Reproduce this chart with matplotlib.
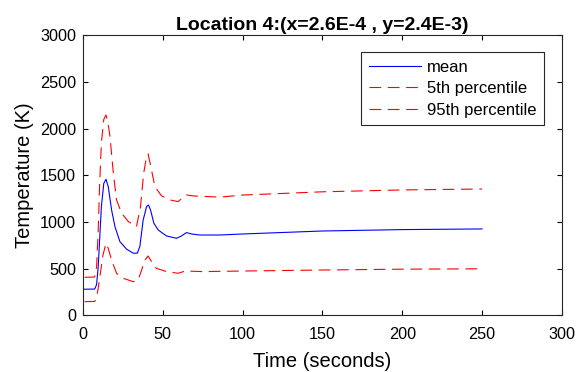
import matplotlib.pyplot as plt

plt.rcParams['font.family'] = ['Liberation Sans', 'DejaVu Sans']

# 平均値
t_mean = [1, 7.3, 8.5, 9.5, 10.4, 11.5, 13, 14.4, 15.8, 17.9, 20, 23.1, 27.3, 31.5, 34, 35.6, 37.7, 39.8, 41, 42.3, 44.4, 47.1, 52.3, 58.6, 61.7, 64.8, 68, 73.2, 85.7, 100, 150, 200, 250]
T_mean = [281, 283, 330, 520, 809, 1166, 1415, 1459, 1380, 1130, 952, 791, 710, 667, 667, 738, 1024, 1166, 1184, 1130, 988, 916, 852, 827, 852, 888, 873, 862, 862, 873, 905, 920, 927]

# 5パーセンタイル
t_p5 = [1, 7.3, 8.5, 9.5, 10.4, 12.5, 14.4, 15.8, 17.9, 21, 25.2, 31.5, 34.6, 36.7, 38.8, 40.8, 42.9, 46, 52.3, 59.6, 62, 64.8, 68, 75, 100, 150, 200, 250]
T_p5 = [148, 150, 190, 290, 398, 648, 773, 719, 594, 452, 398, 362, 380, 487, 594, 637, 577, 505, 470, 452, 465, 480, 474, 470, 476, 487, 496, 500]

# 95パーセンタイル
t_p95 = [1, 7.3, 8.5, 9.5, 10.4, 11.5, 13, 14.4, 15.5, 16.9, 19, 21, 24.2, 28.4, 33.5, 36, 38, 39.8, 40.8, 42.9, 45, 49.2, 54.4, 59.6, 62.7, 64.8, 69, 85.7, 100, 150, 200, 250]
T_p95 = [409, 412, 520, 900, 1400, 1850, 2100, 2148, 2080, 1916, 1524, 1238, 1095, 1006, 952, 1166, 1524, 1703, 1730, 1560, 1381, 1281, 1238, 1220, 1266, 1291, 1281, 1268, 1290, 1325, 1345, 1355]

fig = plt.figure(figsize=(5.81, 3.72), dpi=100)
ax = fig.add_axes([0.1429, 0.152, 0.8241, 0.7526])

ax.plot(t_mean, T_mean, color='blue', lw=0.8, label='mean')
ax.plot(t_p5, T_p5, color='red', lw=0.8, dashes=(10.5, 6), label='5th percentile')
ax.plot(t_p95, T_p95, color='red', lw=0.8, dashes=(10.5, 6), label='95th percentile')

ax.set_xlim(0, 300)
ax.set_ylim(0, 3000)
ax.set_xticks(range(0, 301, 50))
ax.set_yticks(range(0, 3001, 500))
ax.tick_params(direction='in', top=True, right=True, labelsize=11.7, length=3.5, width=0.8, pad=5)
ax.tick_params(axis='x', pad=8.5)
for s in ax.spines.values():
    s.set_linewidth(0.8)
    s.set_color('#262626')

ax.set_xlabel('Time (seconds)', fontsize=14.5, labelpad=7)
ax.set_ylabel('Temperature (K)', fontsize=14.5, labelpad=4)
ax.set_title('Location 4:(x=2.6E-4 , y=2.4E-3)', fontsize=14, fontweight='bold', pad=4)

leg = ax.legend(loc='upper right', bbox_to_anchor=(0.963, 0.94), borderaxespad=0, fontsize=12,
                fancybox=False, framealpha=1, edgecolor='#262626', handlelength=3.15,
                handletextpad=0.36, borderpad=0.44, labelspacing=0.4)
leg.get_frame().set_linewidth(0.8)

fig.savefig('out.png')
